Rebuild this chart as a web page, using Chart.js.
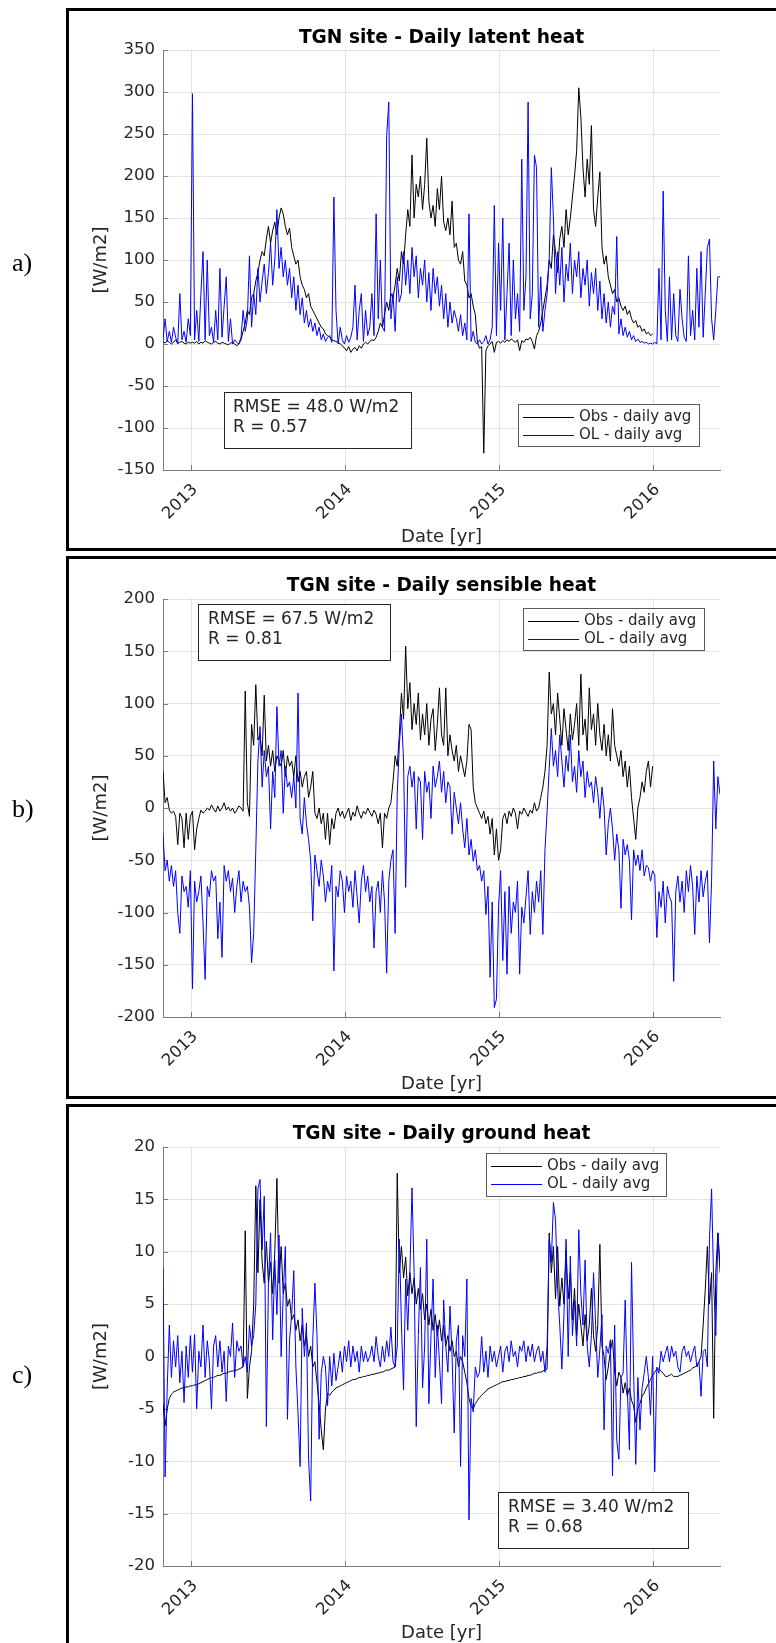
<!DOCTYPE html>
<html>
<head>
<meta charset="utf-8">
<script src="https://cdn.jsdelivr.net/npm/chart.js@4.4.1/dist/chart.umd.min.js"></script>
<style>
  html, body { margin: 0; padding: 0; background: #fff; overflow: hidden; width: 776px; height: 1643px; }
  canvas { position: absolute; left: 0; }
  .frame { position: absolute; left: 66px; width: 760px; border: 3px solid #000; box-sizing: border-box; }
  .tag { position: absolute; left: 12px; font: 26px "Liberation Serif", serif; line-height: 26px; color: #000; }
</style>
</head>
<body>
<canvas id="latent" width="776" height="548" style="top:0px"></canvas>
<canvas id="sensible" width="776" height="548" style="top:548px"></canvas>
<canvas id="ground" width="776" height="547" style="top:1096px"></canvas>

<div class="frame" style="top:8px;height:543px"></div>
<div class="frame" style="top:556px;height:543px"></div>
<div class="frame" style="top:1104px;height:600px"></div>

<div class="tag" style="top:250px">a)</div>
<div class="tag" style="top:796px">b)</div>
<div class="tag" style="top:1362px">c)</div>

<script>
// daily averages, one plotted sample every 5 days from 26 Oct 2012
const SAMPLE_START = Date.UTC(2012, 9, 26);
const SAMPLE_STEP = 5;
const yearTicks = [2013, 2014, 2015, 2016];
const seriesNames = ['Obs - daily avg', 'OL - daily avg'];

// latent heat [W/m2]
const latentObs = [
  3,1,4,2,0,2,5,1,2,3, 1,0,2,1,2,1,3,0,2,1, 4,2,1,0,2,3,1,0,2,1, 0,-1,1,2,0,-2,0,5,15,25,
  40,35,55,60,75,85,100,110,105,125, 140,120,135,145,130,150,162,155,140,130,
  138,115,105,95,100,80,70,65,55,60, 45,40,35,30,25,20,18,12,10,8,
  5,4,3,2,0,-2,-5,-8,-3,-10, -6,-4,-8,-2,-5,0,2,0,3,5,
  4,8,15,25,20,35,50,40,60,55, 70,90,75,110,95,130,160,140,225,150,
  190,175,200,160,190,245,170,150,165,140, 185,160,200,145,135,150,130,170,115,120,
  100,95,110,75,70,55,60,45,35,2, -5,-3,-130,-8,-2,0,3,-10,2,3,
  1,4,2,5,3,6,4,2,5,-8, 4,2,6,5,8,3,-6,10,15,25,
  40,55,70,100,90,130,110,85,125,140, 115,160,130,150,175,200,230,305,270,210,
  175,220,190,260,160,140,175,205,115,95, 105,80,70,60,65,50,55,45,40,45,
  35,40,30,25,28,20,22,15,18,12, 14,10,12
];
const latentOL = [
  5,30,3,15,2,20,8,0,60,5, 15,2,30,10,298,5,40,3,60,110, 5,100,10,20,2,40,5,90,8,45,
  80,3,30,0,5,2,0,8,40,15, 30,105,20,60,35,90,50,75,95,60, 85,120,70,100,160,90,115,80,100,70,
  90,55,80,40,70,35,55,25,40,20, 30,15,25,10,20,5,12,3,8,10, 2,175,40,0,20,5,0,10,2,8,
  20,70,5,40,60,3,40,10,20,60, 10,155,30,100,20,15,248,288,30,60, 15,80,50,60,110,70,100,60,115,80,
  105,55,90,70,100,50,85,40,90,60, 80,45,70,30,60,20,50,25,40,30, 15,35,10,25,5,155,3,15,2,0,
  5,0,3,10,0,5,20,165,10,120, 40,150,5,60,120,10,100,30,60,15, 220,40,80,288,30,60,225,210,20,80,
  15,40,60,100,210,150,60,110,70,115, 50,95,75,120,60,100,80,110,55,90, 70,100,45,85,60,90,40,75,30,60,
  25,50,20,45,35,128,12,30,10,20, 8,15,5,10,3,6,2,3,1,2, 0,1,0,2,0,90,5,182,40,3,
  80,5,60,10,3,65,30,8,3,105, 10,40,5,90,20,110,8,60,115,125, 30,5,40,80,80
];

// sensible heat [W/m2]
const sensibleObs = [
  35,5,10,-2,-5,-3,-8,-35,-5,-10, -38,-5,-30,-8,-3,-40,-20,-10,-2,-5, -3,0,-2,3,-1,-4,2,-3,0,5,
  -2,1,-3,0,-5,-2,2,0,-3,112, 5,-8,80,60,118,65,70,50,108,45, 60,40,55,35,50,45,40,55,30,50,
  40,45,30,50,25,35,20,30,35,10, 20,35,-5,-10,0,-15,-5,-30,-5,-35, -10,-20,-5,0,-8,-3,-10,-5,0,-12,
  -4,-8,2,-5,-10,-3,-6,0,-4,-8, -2,-6,-15,-5,-38,-5,-10,0,5,25, 50,40,70,110,85,155,95,120,75,100,
  80,110,65,90,70,100,60,85,95,55, 80,115,70,60,115,50,70,55,45,60, 35,50,40,30,45,80,75,20,5,0,
  -5,-10,-3,-15,-8,-25,-10,-45,-20,-50, -40,-10,-5,-15,-3,-8,0,-5,-20,-3, -6,0,-4,-8,-2,-5,5,-3,0,10,
  20,35,60,130,90,100,70,110,85,60, 95,75,55,90,65,80,100,60,128,70, 85,55,115,75,90,60,100,70,55,80,
  50,70,45,95,60,50,40,55,30,45, 20,40,10,-10,-30,0,10,25,15,35, 45,20,40
];
const sensibleOL = [
  -25,-60,-50,-70,-55,-75,-60,-100,-120,-65, -80,-75,-95,-60,-173,-70,-90,-80,-65,-110,
  -164,-75,-85,-60,-70,-65,-125,-90,-143,-55, -70,-60,-80,-67,-100,-75,-60,-90,-70,-80,
  -75,-95,-148,-120,-40,45,78,20,55,30, 40,-20,35,10,97,40,55,-5,40,20,
  25,10,30,0,110,-10,-25,10,-15,-30, -50,-108,-45,-60,-75,-50,-65,-90,-70,-80,
  -55,-156,-75,-85,-60,-70,-100,-65,-80,-70, -95,-60,-85,-110,-70,-55,-80,-65,-90,-75,
  -134,-80,-70,-100,-60,-90,-158,-70,-50,-40, -120,13,60,90,45,-76,30,40,20,35,
  -20,30,25,-30,35,15,25,-10,40,20, 30,45,15,35,5,25,20,-25,15,0,
  -15,5,-20,-38,-10,-45,-30,-51,-40,-60, -55,-70,-60,-102,-75,-162,-90,-191,-183,-95,
  -60,-146,-80,-159,-75,-120,-90,-100,-70,-159, -95,-110,-85,-60,-121,-80,-100,-70,-90,-60,
  -121,-40,-3,38,76,40,55,30,70,45, 20,50,35,70,25,40,15,55,30,45,
  10,35,20,25,5,30,15,-10,20,0, -45,-15,0,-20,-50,-25,-40,-96,-30,-45,
  -35,-50,-107,-40,-55,-45,-60,-40,-65,-55, -57,-70,-60,-64,-124,-80,-95,-70,-110,-75,
  -85,-90,-166,-80,-65,-90,-70,-100,-60,-80, -55,-75,-121,-65,-90,-60,-85,-70,-60,-129,
  -70,45,-20,30,13
];

// ground heat [W/m2]
const groundObs = [
  -4.5,-6.6,-5,-4,-3.6,-3.4,-3.3,-3.2,-3.1,-3.0, -3.0,-2.9,-2.9,-2.8,-2.8,-2.7,-2.7,-2.6,-2.5,-2.4,
  -2.3,-2.2,-2.1,-2.0,-2.0,-1.9,-1.8,-1.8,-1.7,-1.6, -1.6,-1.5,-1.4,-1.4,-1.3,-1.3,-1.2,-1.1,-1.0,12,
  -4,-1,0.5,5,16.3,8,15,9,7,11, 7,9,6,10,17,7,10.5,6,7,4.8,
  5.5,3.5,4,2.5,3.5,1.5,3,1,2,0, 1,-1,-0.5,-2.5,-4.5,-7,-8.9,-5,-3.5,-3.7,
  -3.4,-3.2,-3.0,-2.9,-2.8,-2.7,-2.6,-2.5,-2.4,-2.3, -2.2,-2.2,-2.1,-2.0,-2.0,-1.9,-1.9,-1.8,-1.8,-1.7,
  -1.7,-1.6,-1.6,-1.5,-1.5,-1.4,-1.3,-1.3,-1.2,-1.1, -1.0,17.5,8,10.5,7.5,9.5,5.8,8,6,7.5,
  5,6.5,4.5,6,3.5,5,3,4.5,2.5,4, 2,3.5,1.5,3,1,2,0.5,1.5,0,0.5,
  -1,0,-0.5,-1.5,-2.5,-4,-4.8,-5,-4.5,-4.2, -3.9,-3.7,-3.5,-3.3,-3.1,-3.0,-2.9,-2.8,-2.7,-2.6,
  -2.5,-2.4,-2.4,-2.3,-2.3,-2.2,-2.2,-2.1,-2.1,-2.0, -2.0,-1.9,-1.9,-1.8,-1.8,-1.7,-1.6,-1.6,-1.5,-1.5,
  -1.4,-1.3,-1.2,11.8,8,10.5,5.5,10.5,4.8,7.5, 5,10.2,5.5,8,3.5,6.5,2,5,3,1,
  4,1.5,3,6.5,2,0.5,3,10.7,1,0, -2.2,-1,0.5,1.6,-1.5,-2.8,-1.5,-2,-3.5,-2.5,
  -3.8,-3,-4.2,-4.7,-6.3,-5,-4.5,-3.8,-3.5,-3, -2.6,-2.2,-1.8,-1.5,-1.2,-1.2,-1.4,-1.6,-1.9,-1.9,
  -1.8,-1.7,-1.9,-1.9,-1.9,-1.8,-1.7,-1.6,-1.5,-1.4, -1.3,-1.1,-1.0,-0.9,-0.5,0,3,6.4,10.5,5,
  8,-5.9,8,11.8,8.6
];
const groundOL = [
  8.5,-11.5,-3,3,-2,1.5,-1,2,-2.5,0.5, -4.4,1,-2,2,-1.5,2.1,-5,0.5,-1,3,
  -2,1.5,-0.5,-5,1,2,-1,1.5,-1.5,0.5, -4.3,1,0,3.2,-2,1.5,0.5,1,-1,0,
  -1.5,3,1,2,5,16,16.9,10.2,15.3,-6.7, 7,11.8,1.6,9.2,4,11.6,0,6,10.5,-6,
  1.6,4,8.2,-1,-5.4,-10.5,4.6,0,3.2,-9.8, -13.8,1.6,7,2,-7.9,-1.6,0,-1,-4.7,0,
  -2.8,0.3,-2.3,-1,0.5,-1.5,1,-0.5,1.5,-1, 1,-0.5,0.5,-1.5,1,-0.5,0.5,-0.5,0,1,
  -0.5,1.9,0,-1,1,-0.5,1.5,0,2.8,-0.5, -1,1,11.2,3,-3.2,7.4,2.5,8,16.1,8,
  -6.7,2,8.5,-3,1,11.2,-4.5,2,7.4,-2, 3,-0.5,-4.5,5.4,1,-1.5,4.8,0,-7.3,1.5,
  3,-10.5,2,0,7.4,-15.6,-4,-5.3,-1,-2, -1.5,1.9,-1.5,0.5,-2,1,-0.5,0.5,-1,0,
  1,-1.5,0.5,1,-0.5,1.5,0,0.5,-1,1, 0.5,1.5,-0.5,1,0,1.2,-0.5,0.5,1,-0.5,
  0.5,-1.5,1,11.2,9,14.7,13,6.4,3,-1.2, 4,11.2,0,9.6,2,5.4,1,12.1,6,3,
  9.2,1,-1,2,8,3,-2,0.7,4,-7, 1,0.3,1.6,-11.4,3,-8,-9.8,-2,-1.6,5.4,
  -3,-8.9,9,-1.6,-10.3,-2,-7,-3,-1.6,0, -2,-5.6,0,-11,-1,-1.6,0.5,-0.5,0.3,1,
  -0.5,1,0,0.5,-1,-1.5,0.5,1,0,0.5, -0.5,0.3,1,-1,-0.5,-3.8,0.5,0.7,-1,11.2,
  16,7,2,11.8,8
];

const latentStats = ['RMSE = 48.0 W/m2', 'R = 0.57'];
const sensibleStats = ['RMSE = 67.5 W/m2', 'R = 0.81'];
const groundStats = ['RMSE = 3.40 W/m2', 'R = 0.68'];

const FONT = '"DejaVu Sans", sans-serif';
const TEXT = '#262626';
const GRID = 'rgba(38,38,38,0.13)';
const AXIS = '#7a7a7a';

function decYear(i) {
  const t = SAMPLE_START + i * SAMPLE_STEP * 864e5;
  const y = new Date(t).getUTCFullYear();
  const y0 = Date.UTC(y, 0, 1), y1 = Date.UTC(y + 1, 0, 1);
  return y + (t - y0) / (y1 - y0);
}
const toPoints = arr => arr.map((v, i) => ({ x: decYear(i), y: v }));

// matlab-ish extras: inward ticks, title, axis labels, stats box, legend
const decor = {
  id: 'decor',
  beforeDatasetsDraw(chart) {
    const { ctx, chartArea: a, scales: { x, y } } = chart;
    ctx.save();
    ctx.strokeStyle = AXIS;
    ctx.lineWidth = 1;
    ctx.beginPath();
    y.ticks.forEach(t => {
      const p = Math.round(y.getPixelForValue(t.value)) + 0.5;
      ctx.moveTo(a.left, p); ctx.lineTo(a.left + 5, p);
    });
    x.ticks.forEach(t => {
      const p = Math.round(x.getPixelForValue(t.value)) + 0.5;
      ctx.moveTo(p, a.bottom); ctx.lineTo(p, a.bottom - 5);
    });
    ctx.stroke();
    ctx.restore();
  },
  afterDraw(chart, args, o) {
    const { ctx, chartArea: a } = chart;
    const cx = (a.left + a.right) / 2;
    ctx.save();
    ctx.textBaseline = 'middle';
    ctx.textAlign = 'center';
    ctx.fillStyle = '#000';
    ctx.font = 'bold 18.6px ' + FONT;
    ctx.fillText(o.title, cx, o.titleY);

    ctx.fillStyle = TEXT;
    ctx.font = '18px ' + FONT;
    ctx.fillText('Date [yr]', cx, o.xlabelY);
    ctx.save();
    ctx.translate(101, (a.top + a.bottom) / 2);
    ctx.rotate(-Math.PI / 2);
    ctx.fillText('[W/m2]', 0, 0);
    ctx.restore();

    // stats annotation
    const s = o.stats;
    ctx.fillStyle = '#fff';
    ctx.fillRect(s.x, s.y, s.w, s.h);
    ctx.strokeStyle = '#262626';
    ctx.lineWidth = 1;
    ctx.strokeRect(s.x + 0.5, s.y + 0.5, s.w, s.h);
    ctx.fillStyle = TEXT;
    ctx.textAlign = 'left';
    ctx.font = '17px ' + FONT;
    o.statsText.forEach((line, k) => ctx.fillText(line, s.x + s.pad, s.y + 16 + k * 20));

    // legend
    const l = o.legend;
    ctx.fillStyle = '#fff';
    ctx.fillRect(l.x, l.y, l.w, l.h);
    ctx.strokeStyle = '#5a5a5a';
    ctx.strokeRect(l.x + 0.5, l.y + 0.5, l.w, l.h);
    ctx.font = '15px ' + FONT;
    chart.data.datasets.forEach((ds, k) => {
      const yy = Math.round(l.y + 13 + k * 18) + 0.5;
      ctx.strokeStyle = ds.borderColor;
      ctx.beginPath();
      ctx.moveTo(l.x + 5, yy); ctx.lineTo(l.x + 56, yy);
      ctx.stroke();
      ctx.fillStyle = TEXT;
      ctx.fillText(ds.label, l.x + 61, yy);
    });
    ctx.restore();
  }
};

function makePanel(id, obs, ol, yMin, yMax, step, padTop, plotBottom, extra) {
  const canvas = document.getElementById(id);
  const H = canvas.height;
  return new Chart(canvas, {
    type: 'line',
    data: {
      datasets: [
        { label: seriesNames[0], data: toPoints(obs), borderColor: '#000000', borderWidth: 1, order: 1 },
        { label: seriesNames[1], data: toPoints(ol), borderColor: '#0000ff', borderWidth: 1, order: 0 }
      ]
    },
    options: {
      responsive: false,
      animation: false,
      devicePixelRatio: 1,
      elements: { point: { radius: 0 }, line: { tension: 0 } },
      layout: { padding: { top: padTop, right: 56, bottom: 0, left: 0 } },
      plugins: { legend: { display: false }, tooltip: { enabled: false }, decor: extra },
      scales: {
        x: {
          type: 'linear',
          min: decYear(0),
          max: decYear(264),
          afterBuildTicks: s => { s.ticks = yearTicks.map(v => ({ value: v })); },
          afterFit: s => { s.height = H - plotBottom; },
          ticks: {
            autoSkip: false, minRotation: 45, maxRotation: 45, padding: 10, labelOffset: 4,
            color: TEXT, font: { family: FONT, size: 16.5 },
            callback: v => String(v)
          },
          grid: { color: GRID, drawTicks: false },
          border: { color: AXIS }
        },
        y: {
          min: yMin,
          max: yMax,
          afterFit: s => { s.width = 163; },
          ticks: { stepSize: step, padding: 8, color: TEXT, font: { family: FONT, size: 16.5 } },
          grid: { color: GRID, drawTicks: false },
          border: { color: AXIS }
        }
      }
    },
    plugins: [decor]
  });
}

makePanel('latent', latentObs, latentOL, -150, 350, 50, 50, 470, {
  title: 'TGN site - Daily latent heat', titleY: 38, xlabelY: 537,
  statsText: latentStats, stats: { x: 224, y: 392, w: 187, h: 56, pad: 9 },
  legend: { x: 518, y: 404, w: 181, h: 42 }
});
makePanel('sensible', sensibleObs, sensibleOL, -200, 200, 50, 51, 469, {
  title: 'TGN site - Daily sensible heat', titleY: 38, xlabelY: 536,
  statsText: sensibleStats, stats: { x: 198, y: 56, w: 192, h: 56, pad: 10 },
  legend: { x: 523, y: 60, w: 181, h: 42 }
});
makePanel('ground', groundObs, groundOL, -20, 20, 5, 51, 470, {
  title: 'TGN site - Daily ground heat', titleY: 38.5, xlabelY: 537,
  statsText: groundStats, stats: { x: 498, y: 396, w: 190, h: 56, pad: 10 },
  legend: { x: 486, y: 57, w: 180, h: 43 }
});
</script>
</body>
</html>
